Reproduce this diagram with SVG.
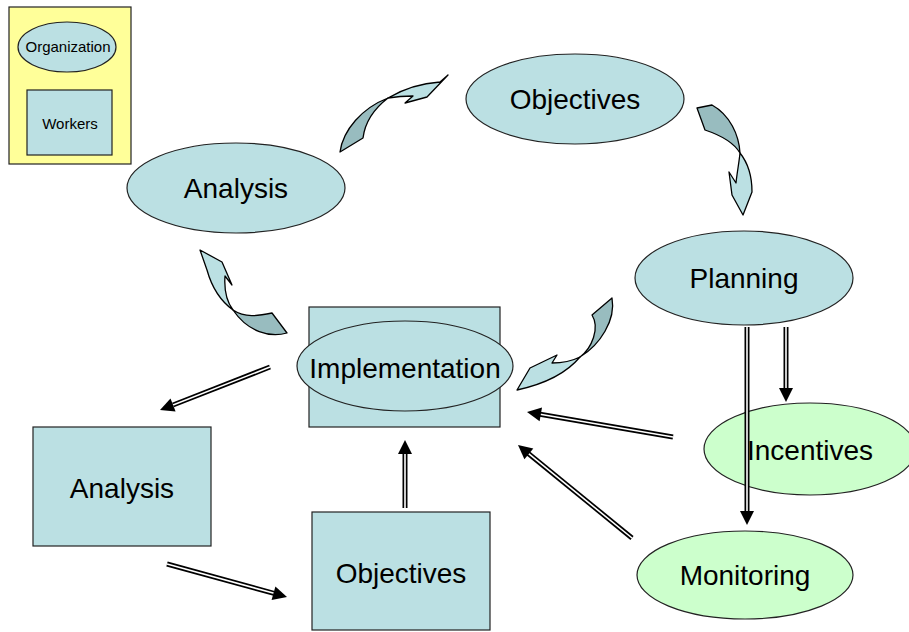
<svg xmlns="http://www.w3.org/2000/svg" width="909" height="632" viewBox="0 0 909 632">
<style>
.n{fill:#BBE0E3;stroke:#222;stroke-width:1.2}
.g{fill:#CCFFCC;stroke:#222;stroke-width:1.2}
.y{fill:#FFFF99;stroke:#222;stroke-width:1.2}
.t{font-family:"Liberation Sans",Arial,sans-serif;font-size:28px;fill:#000;text-anchor:middle}
.s{font-family:"Liberation Sans",Arial,sans-serif;font-size:15px;fill:#000;text-anchor:middle}
.dk{fill:#98BCBF;stroke:#000;stroke-width:1.3;stroke-linejoin:round}
.lt{fill:#BBE0E3;stroke:#000;stroke-width:1.3;stroke-linejoin:round}
.ob{stroke:#000;stroke-width:5;fill:none}
.iw{stroke:#fff;stroke-width:1.6;fill:none}
.hd{fill:#000}
</style>
<g id="legend">
<rect class="y" x="9" y="7" width="122" height="157"/>
<ellipse class="n" cx="67" cy="47" rx="49" ry="25"/>
<text class="s" x="68" y="52">Organization</text>
<rect class="n" x="27" y="90" width="85" height="65"/>
<text class="s" x="70" y="129">Workers</text>
</g>
<g id="objectives-top">
<ellipse class="n" cx="575" cy="99" rx="109" ry="45"/>
<text class="t" x="575" y="109">Objectives</text>
</g>
<g id="analysis-top">
<ellipse class="n" cx="236" cy="188" rx="109" ry="45"/>
<text class="t" x="236" y="198">Analysis</text>
</g>
<g id="planning">
<ellipse class="n" cx="744" cy="278" rx="109" ry="47"/>
<text class="t" x="744" y="288">Planning</text>
</g>
<g id="implementation">
<rect class="n" x="309" y="307" width="191" height="120"/>
<ellipse class="n" cx="405" cy="366" rx="108" ry="45"/>
<text class="t" x="405" y="378">Implementation</text>
</g>
<g id="analysis-box">
<rect class="n" x="33" y="427" width="178" height="119"/>
<text class="t" x="122" y="498">Analysis</text>
</g>
<g id="objectives-box">
<rect class="n" x="312" y="512" width="178" height="118"/>
<text class="t" x="401" y="583">Objectives</text>
</g>
<g id="incentives">
<ellipse class="g" cx="810" cy="449" rx="106" ry="46"/>
<text class="t" x="810" y="460">Incentives</text>
</g>
<g id="monitoring">
<ellipse class="g" cx="745" cy="575" rx="108" ry="44"/>
<text class="t" x="745" y="585">Monitoring</text>
</g>
<g id="connectors">
<g id="curve-analysis-objectives">
<path class="dk" d="M340,152 C343,130 362,108 388,98 C375,108 365,122 363,138 Z"/>
<path class="lt" d="M388,98 C405,88 425,83 440,82 L448,75 L427,97 L405,103 L413,96 C403,96 394,97 388,98 Z"/>
</g>
<g id="curve-objectives-planning">
<path class="dk" d="M697,108 L705,130 C720,135 734,143 740,153 C739,135 730,115 712,105 Z"/>
<path class="lt" d="M740,153 C748,163 752,178 752,192 L743,215 L732,195 L729,172 L736,183 C737,173 739,163 740,153 Z"/>
</g>
<g id="curve-implementation-analysis">
<path class="dk" d="M233,310 C245,318 258,316 272,313 L287,333 C270,338 248,332 233,310 Z"/>
<path class="lt" d="M200,250 L222,262 L232,285 L225,276 C224,290 227,302 233,310 C222,302 212,288 207,270 Z"/>
</g>
<g id="curve-planning-implementation">
<path class="dk" d="M592,315 C600,328 592,348 580,357 C600,345 616,320 612,298 Z"/>
<path class="lt" d="M580,357 C570,362 560,363 552,363 L557,355 L530,368 L517,390 C540,385 565,375 580,357 Z"/>
</g>
<g id="a1">
<line class="ob" x1="270" y1="367" x2="173" y2="405"/>
<line class="iw" x1="270" y1="367" x2="173" y2="405"/>
<polygon class="hd" points="160,410 175.6,411.4 170.5,398.4"/>
</g>
<g id="a2">
<line class="ob" x1="167" y1="564" x2="274" y2="593.3"/>
<line class="iw" x1="167" y1="564" x2="274" y2="593.3"/>
<polygon class="hd" points="287,597 271.6,600 275.4,586.5"/>
</g>
<g id="a3">
<line class="ob" x1="405" y1="508" x2="405" y2="453"/>
<line class="iw" x1="405" y1="508" x2="405" y2="453"/>
<polygon class="hd" points="405,440 398,454 412,454"/>
</g>
<g id="a4">
<line class="ob" x1="673" y1="437" x2="540" y2="414.3"/>
<line class="iw" x1="673" y1="437" x2="540" y2="414.3"/>
<polygon class="hd" points="527,412 542,407.5 539.6,421.3"/>
</g>
<g id="a5">
<line class="ob" x1="632" y1="538" x2="528" y2="453.2"/>
<line class="iw" x1="632" y1="538" x2="528" y2="453.2"/>
<polygon class="hd" points="518,445 533.3,448.4 524.4,459.3"/>
</g>
<g id="a6">
<line class="ob" x1="747" y1="327" x2="747" y2="512"/>
<line class="iw" x1="747" y1="327" x2="747" y2="512"/>
<polygon class="hd" points="747,525 740,511 754,511"/>
</g>
<g id="a7">
<line class="ob" x1="786" y1="327" x2="786" y2="389"/>
<line class="iw" x1="786" y1="327" x2="786" y2="389"/>
<polygon class="hd" points="786,402 779,388 793,388"/>
</g>
</g>
</svg>
